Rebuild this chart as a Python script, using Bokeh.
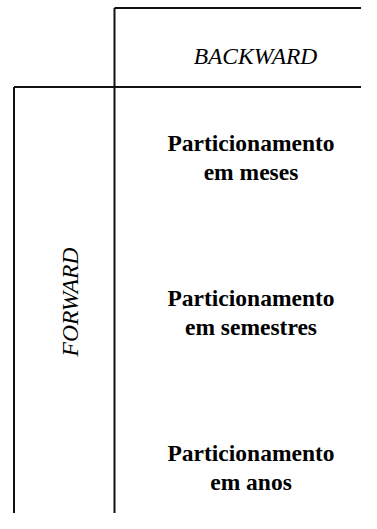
import math
from bokeh.plotting import figure
from bokeh.models import Range1d
from bokeh.core.properties import value
from bokeh.embed import file_html
from bokeh.resources import INLINE

# --- content ---
col_header = "BACKWARD"
row_header = "FORWARD"
row_labels = [
    "Particionamento\nem meses",
    "Particionamento\nem semestres",
    "Particionamento\nem anos",
]

# --- layout (reference pixel coordinates) ---
W, H = 361, 513
left_x, split_x, right_x = 13.5, 114, 400
top_y, head_y, bottom_y = 7.5, 86.5, 540
row_first, row_step = 157, 155
label_x = 250.5

p = figure(width=W, height=H, output_backend="svg",
           toolbar_location=None, x_range=Range1d(0, W),
           y_range=Range1d(H, 0), min_border=0)
p.axis.visible = False
p.grid.visible = False
p.outline_line_color = None
p.background_fill_color = "white"
p.border_fill_color = "white"

# frame lines
p.segment(x0=[split_x, split_x, left_x, left_x],
          y0=[top_y, top_y, head_y, head_y],
          x1=[right_x, split_x, right_x, left_x],
          y1=[top_y, bottom_y, head_y, bottom_y],
          line_color="#111111", line_width=2)

font = value("Liberation Serif")
fs = "23.5px"

p.text(x=[255], y=[55], text=[col_header],
       text_font=font, text_font_size=fs, text_font_style="italic",
       text_align="center", text_baseline="middle", text_color="black")

p.text(x=[69.5], y=[301.5], text=[row_header], angle=math.pi / 2,
       text_font=font, text_font_size=fs, text_font_style="italic",
       text_align="center", text_baseline="middle", text_color="black")

ys = [row_first + i * row_step for i in range(len(row_labels))]
p.text(x=[label_x] * len(row_labels), y=ys, text=row_labels,
       text_font=font, text_font_size=fs, text_font_style="bold",
       text_align="center", text_baseline="middle", text_line_height=1.08,
       text_color="black")

open("out.html", "w").write(file_html(p, INLINE))
